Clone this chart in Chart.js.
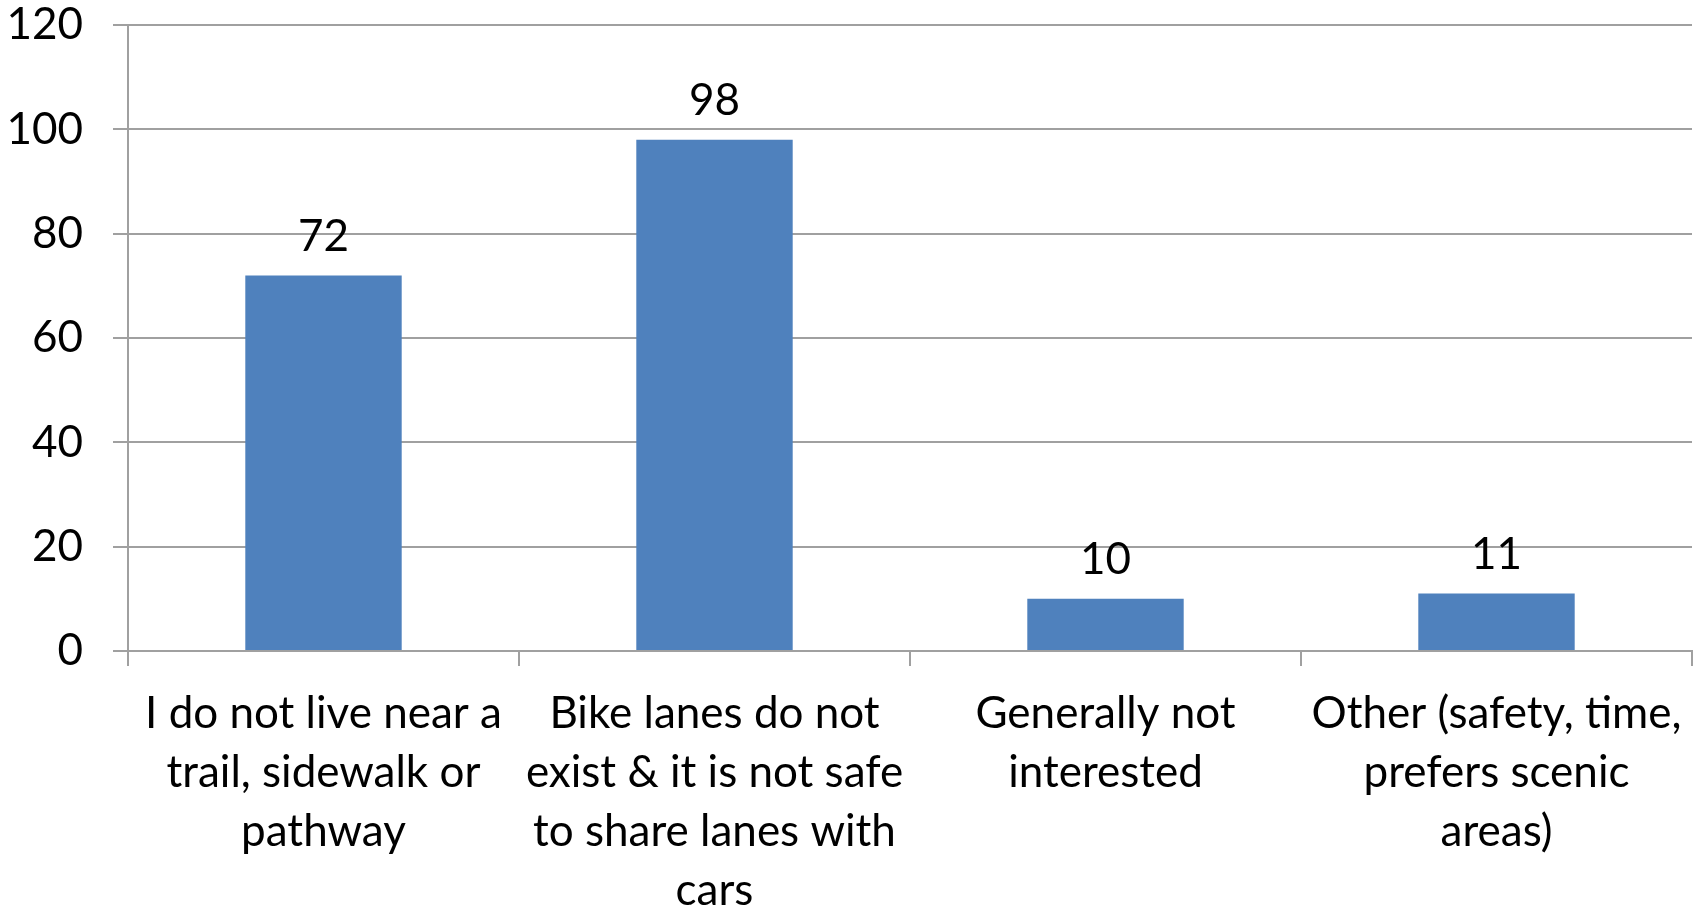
<!DOCTYPE html>
<html>
<head>
<meta charset="utf-8">
<script src="https://cdn.jsdelivr.net/npm/chart.js@4"></script>
<style>
  html, body { margin: 0; padding: 0; background: #fff; }
  #wrap { width: 1707px; height: 908px; }
</style>
</head>
<body>
<div id="wrap"><canvas id="barChart" width="1707" height="908"></canvas></div>
<script>
// categories (already wrapped into lines, like the original)
const categories = [
  ['I do not live near a', 'trail, sidewalk or', 'pathway'],
  ['Bike lanes do not', 'exist & it is not safe', 'to share lanes with', 'cars'],
  ['Generally not', 'interested'],
  ['Other (safety, time,', 'prefers scenic', 'areas)']
];
const responses = [72, 98, 10, 11];
const yTicks = [0, 20, 40, 60, 80, 100, 120];

const fontFamily = "Lato, 'Open Sans', sans-serif";
const gridGray = '#a0a0a0';

// draws the number above each bar
const valueLabels = {
  id: 'valueLabels',
  afterDatasetsDraw(chart) {
    const ctx = chart.ctx;
    const meta = chart.getDatasetMeta(0);
    ctx.save();
    ctx.font = '44px ' + fontFamily;
    ctx.fillStyle = '#000';
    ctx.textAlign = 'center';
    ctx.textBaseline = 'bottom';
    meta.data.forEach((bar, i) => {
      ctx.fillText(String(responses[i]), bar.x, bar.y - 17);
    });
    ctx.restore();
  }
};

new Chart(document.getElementById('barChart'), {
  type: 'bar',
  data: {
    labels: categories,
    datasets: [{
      data: responses,
      backgroundColor: '#4f81bd',
      categoryPercentage: 1,
      barPercentage: 0.4
    }]
  },
  options: {
    responsive: false,
    animation: false,
    layout: { padding: { top: 25, right: 15, left: 0, bottom: 0 } },
    plugins: { legend: { display: false }, tooltip: { enabled: false } },
    scales: {
      x: {
        offset: true,
        grid: { offset: true, drawOnChartArea: false, drawTicks: true, tickLength: 15, color: gridGray, lineWidth: 2 },
        border: { display: true, color: gridGray, width: 2 },
        ticks: {
          color: '#000',
          font: { family: fontFamily, size: 44, lineHeight: 1.34 },
          padding: 18,
          maxRotation: 0,
          autoSkip: false
        },
        afterFit(scale) { scale.height = 257; scale.paddingTop = 0; scale.paddingBottom = 0; }
      },
      y: {
        min: 0,
        max: 120,
        afterBuildTicks(scale) { scale.ticks = yTicks.map(v => ({ value: v })); },
        grid: { drawTicks: true, tickLength: 15, color: gridGray, lineWidth: 2 },
        border: { display: true, color: gridGray, width: 2 },
        ticks: {
          color: '#000',
          font: { family: fontFamily, size: 44 },
          padding: 30
        },
        afterFit(scale) { scale.width = 128; scale.paddingTop = 0; scale.paddingBottom = 0; }
      }
    }
  },
  plugins: [valueLabels]
});
</script>
</body>
</html>
